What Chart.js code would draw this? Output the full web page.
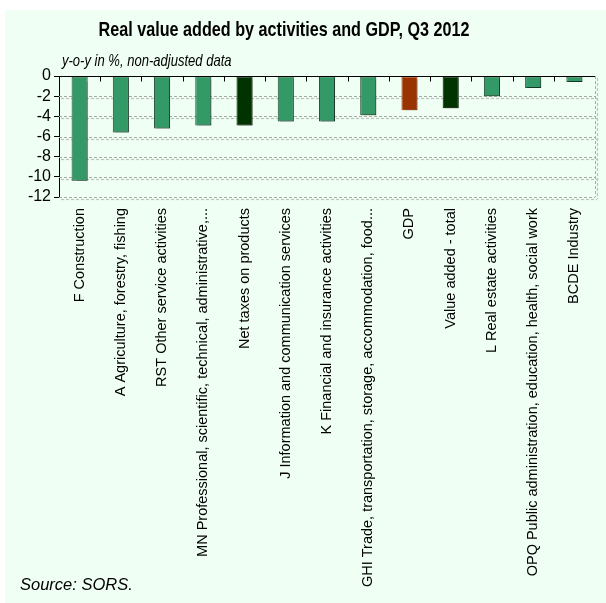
<!DOCTYPE html>
<html lang="en">
<head>
    <meta charset="UTF-8">
    <title>Real value added by activities and GDP, Q3 2012</title>
    <script src="https://cdn.jsdelivr.net/npm/chart.js"></script>
    <style>
        body {
            margin: 0;
            padding: 0;
            background: #ffffff;
        }

        #chartContainer {
            width: 606px;
            height: 603px;
        }
    </style>
</head>
<body>
    <div id="chartContainer">
        <canvas id="chart"></canvas>
    </div>

    <script>
        // Data
        const categories = [
            'F Construction',
            'A Agriculture, forestry, fishing',
            'RST Other service activities',
            'MN Professional, scientific, technical, administrative,...',
            'Net taxes on products',
            'J Information and communication services',
            'K Financial and insurance activities',
            'GHI Trade, transportation, storage, accommodation, food...',
            'GDP',
            'Value added - total',
            'L Real estate activities',
            'OPQ Public administration, education, health, social work',
            'BCDE Industry'
        ];
        const values = [-10.4, -5.6, -5.2, -4.9, -4.9, -4.5, -4.5, -3.9, -3.4, -3.2, -2.0, -1.2, -0.6];
        const barKinds = ['act', 'act', 'act', 'act', 'total', 'act', 'act', 'act', 'gdp', 'total', 'act', 'act', 'act'];
        const yTicks = [0, -2, -4, -6, -8, -10, -12];

        const fillColors = { act: '#339966', total: '#003300', gdp: '#993300' };
        const edgeColors = { act: '#1d4d33', total: '#001a00', gdp: '#cc4400' };

        const fontMain = "'Liberation Sans', Arial, sans-serif";

        // draw text squeezed horizontally (the original uses a narrow face)
        function narrowText(c, text, x, y, squeeze) {
            c.save();
            c.translate(x, y);
            c.scale(squeeze, 1);
            c.fillText(text, 0, 0);
            c.restore();
        }

        // Mint panel, titles and source note
        const panelPlugin = {
            id: 'panel',
            beforeDraw(chart) {
                const c = chart.ctx;
                c.save();
                c.fillStyle = '#f0fff3';
                c.beginPath();
                c.roundRect(5, 10, 606, 603, 4);
                c.fill();
                c.restore();
            },
            afterDraw(chart) {
                const c = chart.ctx;
                c.save();
                c.fillStyle = '#000';
                c.textBaseline = 'alphabetic';
                c.textAlign = 'center';
                c.font = "bold 21px " + fontMain;
                narrowText(c, 'Real value added by activities and GDP, Q3 2012', 284, 36, 0.77);
                c.textAlign = 'left';
                c.font = "italic 16.5px " + fontMain;
                narrowText(c, 'y-o-y in %, non-adjusted data', 62, 66, 0.79);
                c.font = "italic 16.5px " + fontMain;
                narrowText(c, 'Source: SORS.', 20, 590, 1);
                c.restore();
            }
        };

        // Frame: dashed grid, solid zero line, dashed right edge, category tick marks
        const framePlugin = {
            id: 'frame',
            beforeDatasetsDraw(chart) {
                const c = chart.ctx;
                const area = chart.chartArea;
                const y = chart.scales.y;
                c.save();
                c.strokeStyle = '#a8a8a8';
                c.lineWidth = 1;
                c.setLineDash([3, 2]);
                c.beginPath();
                yTicks.forEach(v => {
                    if (v === 0) return;
                    const py = Math.round(y.getPixelForValue(v)) + 0.5;
                    c.moveTo(area.left, py);
                    c.lineTo(area.right, py);
                });
                c.moveTo(Math.round(area.right) + 0.5, area.top);
                c.lineTo(Math.round(area.right) + 0.5, area.bottom);
                c.stroke();
                c.restore();
            },
            afterDraw(chart) {
                const c = chart.ctx;
                const area = chart.chartArea;
                const x = chart.scales.x;
                const y = chart.scales.y;
                const zero = Math.round(y.getPixelForValue(0)) + 0.5;
                c.save();
                c.strokeStyle = '#000';
                c.lineWidth = 1;
                c.beginPath();
                c.moveTo(area.left, zero);
                c.lineTo(area.right, zero);
                const half = (x.getPixelForValue(1) - x.getPixelForValue(0)) / 2;
                for (let i = 1; i < categories.length; i++) {
                    const px = Math.round(x.getPixelForValue(i) - half) + 0.5;
                    c.moveTo(px, zero);
                    c.lineTo(px, zero + 5);
                }
                c.stroke();
                c.restore();
            }
        };

        // Soft shadow behind bars
        const shadowPlugin = {
            id: 'barShadow',
            beforeDatasetsDraw(chart) {
                const c = chart.ctx;
                c.save();
                c.shadowColor = 'rgba(0, 0, 0, 0.3)';
                c.shadowOffsetX = 2;
                c.shadowOffsetY = 2;
                c.shadowBlur = 1;
            },
            afterDatasetsDraw(chart) {
                chart.ctx.restore();
            }
        };

        const ctx = document.getElementById('chart').getContext('2d');

        const chart = new Chart(ctx, {
            type: 'bar',
            data: {
                labels: categories,
                datasets: [{
                    data: values,
                    backgroundColor: barKinds.map(k => fillColors[k]),
                    borderColor: barKinds.map(k => edgeColors[k]),
                    borderWidth: 1,
                    borderSkipped: false,
                    categoryPercentage: 1,
                    barPercentage: 0.39
                }]
            },
            options: {
                responsive: true,
                maintainAspectRatio: false,
                animation: false,
                layout: {
                    padding: { top: 76, left: 0, right: 11, bottom: 0 }
                },
                plugins: {
                    legend: { display: false },
                    title: { display: false },
                    tooltip: { enabled: false }
                },
                scales: {
                    x: {
                        position: 'bottom',
                        grid: { display: false, drawTicks: false },
                        border: { display: false },
                        ticks: {
                            color: '#000',
                            font: { family: fontMain, size: 14.5 },
                            minRotation: 90,
                            maxRotation: 90,
                            autoSkip: false,
                            padding: 11
                        },
                        afterFit(scale) {
                            scale.height = 603 - 197;
                        }
                    },
                    y: {
                        min: -12,
                        max: 0,
                        afterBuildTicks(scale) {
                            scale.ticks = yTicks.map(v => ({ value: v }));
                        },
                        grid: {
                            drawOnChartArea: false,
                            tickColor: '#000',
                            tickLength: 5,
                            drawTicks: true
                        },
                        border: { display: true, color: '#000' },
                        ticks: {
                            color: '#000',
                            font: { family: fontMain, size: 16 },
                            autoSkip: false,
                            padding: 3
                        },
                        afterFit(scale) {
                            scale.width = 59;
                        }
                    }
                }
            },
            plugins: [panelPlugin, shadowPlugin, framePlugin]
        });
    </script>
</body>
</html>
